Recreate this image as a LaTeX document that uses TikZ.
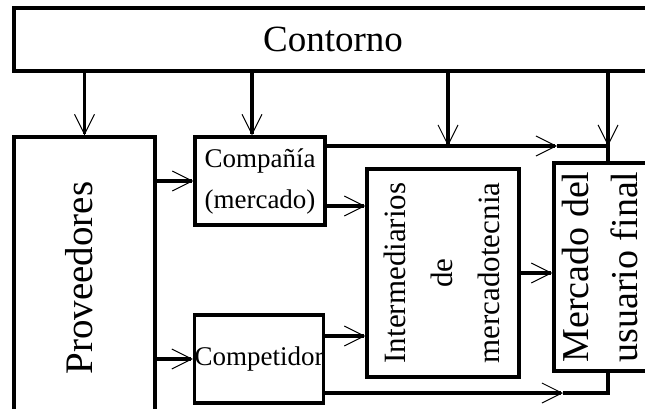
\documentclass[tikz,border=0pt]{standalone}
\usepackage{fontspec}
\setmainfont{Liberation Serif}
\usetikzlibrary{arrows.meta}

\begin{document}
\begin{tikzpicture}[x = 1pt, y = 1pt,
	box/.style = {draw, line width = 3.2pt, inner sep = 0pt},
	line/.style = {line width = 3.2pt},
	flow/.style = {line, -{Straight Barb[length = 20pt, width = 20pt, line width = 1pt]}}]

	% Frame
	
	\useasboundingbox (0, 0) rectangle (645, 408);
	\clip (0, 0) rectangle (645, 408);

	% Boxes
	
	\node [box, minimum width = 638pt, minimum height = 63pt] (cont) at (333, 368.5)
		{\fontsize{37}{44}\selectfont Contorno};
	\node [box, minimum width = 141pt, minimum height = 282pt] (prov) at (84.5, 130)
		{\rotatebox{90}{\fontsize{39}{47}\selectfont Proveedores}\hspace*{10pt}};
	\node [box, minimum width = 130pt, minimum height = 88pt, align = center,
		font = \fontsize{27}{41}\selectfont] (comp) at (260, 227) {Compañía\\(mercado)};
	\node [box, minimum width = 128pt, minimum height = 88pt,
		font = \fontsize{27}{41}\selectfont] (rival) at (259, 49) {Competidor};
	\node [box, minimum width = 152pt, minimum height = 208pt] (inter) at (443, 135)
		{\rotatebox{90}{\fontsize{31}{47}\selectfont
		\begin{tabular}{@{}c@{}}Intermediarios\\de\\mercadotecnia\end{tabular}}};
	\node [box, minimum width = 94pt, minimum height = 208pt] (merc) at (607, 141)
		{\rotatebox{90}{\fontsize{38}{49}\selectfont
		\begin{tabular}{@{}c@{}}Mercado del\\usuario final\end{tabular}}\hspace*{8pt}};

	% Bends of the outer paths
	
	\coordinate (topL) at (325, 262);
	\coordinate (topM) at (557, 262);
	\coordinate (topR) at (608, 262);
	\coordinate (botL) at (323, 15);
	\coordinate (botM) at (563, 15);
	\coordinate (botR) at (608, 15);

	% Arrows from the surroundings
	
	\draw [flow] (cont.south -| prov.north) -- (prov.north);
	\draw [flow] (cont.south -| 252, 0) -- (comp.north -| 252, 0);
	\draw [flow] (cont.south -| 448, 0) -- (topL -| 448, 0);
	\draw [flow] (cont.south -| topR) -- (topR);

	% Arrows between the boxes
	
	\draw [flow] (prov.east |- comp.west) -- (comp.west);
	\draw [flow] (prov.east |- rival.west) -- (rival.west);
	\draw [flow] ([yshift = -25pt] comp.east) coordinate (a) -- (a -| inter.west);
	\draw [flow] ([yshift = 23pt] rival.east) coordinate (b) -- (b -| inter.west);
	\draw [flow] (inter.east) -- (inter.east -| merc.west);

	% Outer paths to the final market
	
	\draw [flow] (topL) -- (topM);
	\draw [line] (topM) -- (topR) -- (topR |- merc.north);
	\draw [flow] (botL) -- (botM);
	\draw [line] (botM) -- (botR) -- (botR |- merc.south);

\end{tikzpicture}
\end{document}
